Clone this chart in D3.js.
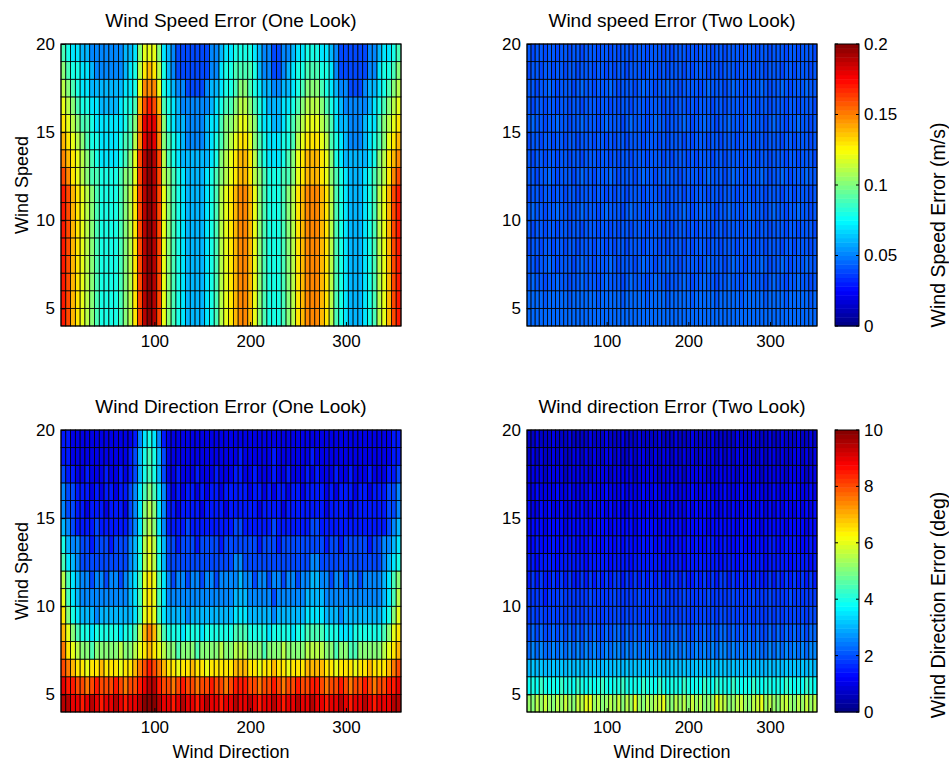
<!DOCTYPE html>
<html>
<head>
<meta charset="utf-8">
<title>Wind error pcolor</title>
<script src="https://cdnjs.cloudflare.com/ajax/libs/d3/7.8.5/d3.min.js"></script>
<style>
  body { margin: 0; background: #fff; }
  text { font-family: "Liberation Sans", Arial, sans-serif; fill: #000; }
</style>
</head>
<body>
<script>
// bins
var directions = d3.range(5, 360, 5);          // 71 direction bin centres (deg)
var speedBins = [4, 5, 6, 7, 8, 9, 10, 11, 12, 13, 14, 15, 16, 17, 18, 19];  // lower edge of each speed bin
var xTicks = [100, 200, 300];
var yTicks = [5, 10, 15, 20];
var speedCbTicks = [0, 0.05, 0.1, 0.15, 0.2];
var speedCbLabels = ["0", "0.05", "0.1", "0.15", "0.2"];
var dirCbTicks = [0, 2, 4, 6, 8, 10];

// cell levels, one string per speed bin (bottom row first), one base-36 char per direction bin
// value = level * step
var speedOneLookStep = 0.01;
var speedOneLook = [
  "hgedcba988 889abdgjkj gca9876666 789bcdeffe ca98889abd efffedb987 666789bceg h",
  "hgedcba988 889abdgjkj gca9876666 789bcdeffe ca98889abd efffedb987 666789bceg h",
  "hgedcba988 889abdgjkj gca9876666 789bcdeffe ca98889abd efffedb987 666789bceg h",
  "hgedcba988 889abdgjkj gca9876666 789bcdeffe ca98889abd efffedb987 666789bceg h",
  "hgedcba988 889abdgjkj gca9876666 789bcdeffe ca98889abd efffedb987 666789bceg h",
  "hgedcba988 889abdgjkj gca9876666 789bcdeffe ca98889abd efffedb987 666789bceg h",
  "hgedcba988 889abdgjkj gca9876666 789bcdeffe ca98889abd efffedb987 666789bceg h",
  "hgedcba988 889abdgjkj gca9876666 789bcdeffe ca98889abd efffedb987 666789bceg h",
  "gfdcba9988 889aacgjkj gba9876666 789abcdeed ba988899ac deeedca987 666789abdf g",
  "fedcba9877 7789acgjkj gb98766666 678abcdeed b9877789ac deeedca876 666678abde f",
  "edcba98877 77899bfiji fa98765555 6789abcddc a98777889b cdddcb9876 5556789acd e",
  "dcba998777 77789afiii fa87665555 6779aabccb a87766789a bcccba9766 5556779abc d",
  "cba9887766 667889eghg e987655555 567899abba 9876667789 abbba98765 55556789ab c",
  "ba98776666 666778cfff c876554444 5667889aa9 8766556678 9aaa987655 444566789a b",
  "a988776555 555678bded b865444444 4557889999 8655445678 8999887544 4444557889 a",
  "9877665555 555667accc a765444444 4556778888 7655445567 7888776544 4444556778 9"
];

var speedTwoLookStep = 0.002;
var speedTwoLook = [
  "mnmmnmmnmm nmmnmmmnmm nmnmmnmmmn mmmnmnmmmn mnmmmnmmnm mmnmmmnmmn mmmnmmnmmm n",
  "mnmmlmmnmm lmmnmmmlmn mmmlmnmmml mnmmlmmmnm lmmnmmlmmn mmlmnmmmlm nmmlmmnmml m",
  "lmllkllmll kllmlllklm lllklmlllk lmllklllml kllmllkllm llklmlllkl mllkllmllk l",
  "llkllmlkll lklmllklll mlklllklml lkllmllkll llklmlllkl mllklllmlk llmlklllml l",
  "kllkllkllk llklllkllk lkllklllkl llklklllkl klllkllkll lklllkllkl llkllklllk l",
  "lkllkllkll kllklllkll klkllklllk lllklklllk lklllkllkl llklllkllk lllkllklll k",
  "lmllkllmll kllmlllklm lllklmlllk lmllklllml kllmllkllm llklmlllkl mllkllmllk l",
  "kllkllkllk llklllkllk lkllklllkl llklklllkl klllkllkll lklllkllkl llkllklllk l",
  "llkllmlkll lklmllklll mlklllklml lkllmllkll llklmlllkl mllklllmlk llmlklllml l",
  "lkllkllkll kllklllkll klkllklllk lllklklllk lklllkllkl llklllkllk lllkllklll k",
  "kllkllkllk llklllkllk lkllklllkl llklklllkl klllkllkll lklllkllkl llkllklllk l",
  "lmllkllmll kllmlllklm lllklmlllk lmllklllml kllmllkllm llklmlllkl mllkllmllk l",
  "lkllkllkll kllklllkll klkllklllk lllklklllk lklllkllkl llklllkllk lllkllklll k",
  "llkllmlkll lklmllklll mlklllklml lkllmllkll llklmlllkl mllklllmlk llmlklllml l",
  "kllkllkllk llklllkllk lkllklllkl llklklllkl klllkllkll lklllkllkl llkllklllk l",
  "lkllkllkll kllklllkll klkllklllk lllklklllk lklllkllkl llklllkllk lllkllklll k"
];

var dirOneLookStep = 0.5;
var dirOneLook = [
  "jjiihijihi ijihiijkkk jiihijiihi jiihiijiij ihiijihiij iijiihiiji hiijihiiij j",
  "ihhggfghgg ghgfgghijj hggfghggfg ghggfghhhg gfgghgfggh gghhgfgghg fgghgfgghh i",
  "gfeddcdded ddcddefghg feddcddedd cdddddeeed dcddeddcdd deeeeddcdd dcddedddef g",
  "fdcbaa9aaa aabaabcded cbaa9aaa9a aaabaabbba aa9aaabaaa abbbbaa9aa 99aaaaabcd e",
  "eca9887888 887889befe b988878887 8888889998 8887888878 8999988877 78888889ac d",
  "da87666566 6666679cdc 9766665666 6666667776 6666566666 6777766656 666666678a c",
  "c976555555 5555679cdc 9755555555 5555556665 5555455555 5666655555 5555555679 b",
  "b976554554 5545679cdc 9754554554 5545555655 4554554554 5566554554 5545555679 a",
  "9765444444 4444568bcb 8644444444 4444445544 4444444444 4455444444 4444444567 8",
  "8655443444 3444568bcb 8644344434 4443444444 4344434444 4444434434 4444344556 7",
  "6543333433 3333457aba 7533334333 3333334433 3333433333 3344333333 3333333345 6",
  "5443323332 3332457aba 7533233332 3333233333 3233332333 3333323333 2333333344 5",
  "5443332323 32334579a9 7532323323 2332333332 3323233233 2333323233 3233233344 5",
  "4332232223 2232346898 6422322232 2232223322 3222322322 2323222322 3222322233 4",
  "3322222222 2222346898 6422222222 2222222322 2222322222 2232222222 2222222223 3",
  "3322222222 2222235787 5322222222 2222222222 2222222222 2222222222 2222222223 3"
];

var dirTwoLookStep = 0.25;
var dirTwoLook = [
  "lkmlnlkmln lknmoolmkl mlnkmlolkm lmnolkmlmk nlmkllonmk lmnlkmnolm lkmnlkmlnl m",
  "fgfhgfgfhg gfhgfgfghg fgghgfgfhg gfhgfggfhg fgfhgfhggf hgfgfhgfgg fgfhgfgfhg f",
  "cdcdccdcdc dcdcdcdccd cddcdcdcdc dcdccddcdc cdcdcdcddc dcdcdcdccd cdcdcdcdcd c",
  "9a9a99a9a9 a9a9a9a99a 9aa9a9a9a9 a9a99aa9a9 9a9a9a9aa9 a9a9a9a99a 9a9a9a9a9a a",
  "8989889898 9898989889 8998989898 9898899898 8989898998 9898989889 8989898989 9",
  "7878778787 8787878778 7887878787 8787788787 7878787887 8787878778 7878787878 8",
  "7777677787 7777787777 7877777877 7778777787 7777877777 8777787778 7777877777 7",
  "6767667676 7667676767 6776767676 7676677676 6767676776 7676767667 6767676767 6",
  "6656666566 6666566666 5666656666 6665666656 6666666566 6566666656 6666566665 6",
  "5565556556 5655565556 5565655565 6556556556 5655665565 5565556556 6556565556 5",
  "5555455554 5555545555 4555554555 5545555545 5555455555 5455555455 5554555545 5",
  "5445454454 4545445454 5454454545 4454545445 4545454454 5445454545 4545445454 5",
  "4454444544 5444454445 4445444454 4544454444 5444544454 4454445444 5444454445 4",
  "4444344443 4444434444 3444443444 4434444434 4444344444 4344444344 4443444434 4",
  "3434334343 3443434334 4343343443 3434434343 4334343434 3443433434 4343344343 4",
  "3343334333 4333343334 3334333433 3343334333 4333343333 3433343334 3343334334 3"
];

var W = 949, H = 764;
var plotH = 282;

var panels = [
  { title: "Wind Speed Error (One Look)", rows: speedOneLook, step: speedOneLookStep, max: 0.2, x0: 61, w: 340, y0: 44, ylab: true, xlab: false },
  { title: "Wind speed Error (Two Look)", rows: speedTwoLook, step: speedTwoLookStep, max: 0.2, x0: 527, w: 290, y0: 44, ylab: false, xlab: false },
  { title: "Wind Direction Error (One Look)", rows: dirOneLook, step: dirOneLookStep, max: 10, x0: 61, w: 340, y0: 430, ylab: true, xlab: true },
  { title: "Wind direction Error (Two Look)", rows: dirTwoLook, step: dirTwoLookStep, max: 10, x0: 527, w: 290, y0: 430, ylab: false, xlab: true }
];

// matlab style jet(64)
function jet(t) {
  var i = Math.max(0, Math.min(63, Math.floor(t * 64)));
  var v = (i + 0.5) / 64;
  function c(a) { return Math.max(0, Math.min(1, a)); }
  return d3.rgb(255 * c(1.5 - Math.abs(4 * v - 3)),
                255 * c(1.5 - Math.abs(4 * v - 2)),
                255 * c(1.5 - Math.abs(4 * v - 1))).toString();
}

var svg = d3.select("body").append("svg")
  .attr("width", W).attr("height", H);

svg.append("rect").attr("width", W).attr("height", H).attr("fill", "#fff");

panels.forEach(function(p) {
  var x = d3.scaleLinear().domain([2.5, 357.5]).range([p.x0, p.x0 + p.w]);
  var y = d3.scaleLinear().domain([4, 20]).range([p.y0 + plotH, p.y0]);

  var cells = [];
  speedBins.forEach(function(s, r) {
    var row = p.rows[r].replace(/\s/g, "");
    directions.forEach(function(d, c) {
      var ch = row.charAt(c) || row.charAt(row.length - 1);
      cells.push({ dir: d, speed: s, value: parseInt(ch, 36) * p.step });
    });
  });

  var g = svg.append("g");

  g.selectAll("rect.cell")
    .data(cells)
    .enter()
    .append("rect")
    .attr("class", "cell")
    .attr("x", function(d) { return x(d.dir - 2.5); })
    .attr("y", function(d) { return y(d.speed + 1); })
    .attr("width", function(d) { return x(d.dir + 2.5) - x(d.dir - 2.5); })
    .attr("height", function(d) { return y(d.speed) - y(d.speed + 1); })
    .attr("fill", function(d) { return jet(d.value / p.max); })
    .attr("stroke", "#000")
    .attr("stroke-width", 0.8);

  // axes, ticks pointing inwards like matlab
  var xAxis = g.append("g")
    .attr("transform", "translate(0," + (p.y0 + plotH) + ")")
    .call(d3.axisBottom(x).tickValues(xTicks).tickSizeInner(-4).tickSizeOuter(0).tickPadding(9));
  var yAxis = g.append("g")
    .attr("transform", "translate(" + p.x0 + ",0)")
    .call(d3.axisLeft(y).tickValues(yTicks).tickSizeInner(-4).tickSizeOuter(0).tickPadding(6));
  [xAxis, yAxis].forEach(function(a) {
    a.select(".domain").remove();
    a.selectAll("text").attr("font-size", 17).attr("font-family", "Liberation Sans, Arial, sans-serif");
  });

  g.append("rect")
    .attr("x", p.x0).attr("y", p.y0)
    .attr("width", p.w).attr("height", plotH)
    .attr("fill", "none").attr("stroke", "#000").attr("stroke-width", 1);

  g.append("text")
    .attr("x", p.x0 + p.w / 2).attr("y", p.y0 - 17)
    .attr("text-anchor", "middle")
    .attr("font-size", 19)
    .text(p.title);

  if (p.ylab) {
    g.append("text")
      .attr("transform", "translate(28," + (p.y0 + plotH / 2) + ") rotate(-90)")
      .attr("text-anchor", "middle")
      .attr("font-size", 18)
      .text("Wind Speed");
  }
  if (p.xlab) {
    g.append("text")
      .attr("x", p.x0 + p.w / 2).attr("y", p.y0 + plotH + 46)
      .attr("text-anchor", "middle")
      .attr("font-size", 18)
      .text("Wind Direction");
  }
});

// colorbars
function colorbar(y0, max, ticks, labels, title, titleY) {
  var cx = 835, cw = 24;
  var cy = d3.scaleLinear().domain([0, max]).range([y0 + plotH, y0]);
  var g = svg.append("g");
  var bands = d3.range(64);
  g.selectAll("rect.band")
    .data(bands)
    .enter()
    .append("rect")
    .attr("x", cx)
    .attr("y", function(i) { return cy((i + 1) * max / 64); })
    .attr("width", cw)
    .attr("height", function(i) { return cy(i * max / 64) - cy((i + 1) * max / 64) + 0.5; })
    .attr("fill", function(i) { return jet((i + 0.5) / 64); });
  g.append("rect")
    .attr("x", cx).attr("y", y0).attr("width", cw).attr("height", plotH)
    .attr("fill", "none").attr("stroke", "#000").attr("stroke-width", 1);
  g.selectAll("line.lt").data(ticks).enter().append("line")
    .attr("x1", cx).attr("x2", cx + 3)
    .attr("y1", function(d) { return cy(d); }).attr("y2", function(d) { return cy(d); })
    .attr("stroke", "#000");
  g.selectAll("line.rt").data(ticks).enter().append("line")
    .attr("x1", cx + cw - 3).attr("x2", cx + cw)
    .attr("y1", function(d) { return cy(d); }).attr("y2", function(d) { return cy(d); })
    .attr("stroke", "#000");
  g.selectAll("text.tl").data(ticks).enter().append("text")
    .attr("x", cx + cw + 5)
    .attr("y", function(d) { return cy(d); })
    .attr("dy", "0.35em")
    .attr("font-size", 17)
    .text(function(d, i) { return labels[i]; });
  g.append("text")
    .attr("transform", "translate(938," + titleY + ") rotate(-90)")
    .attr("text-anchor", "middle")
    .attr("dy", "0.35em")
    .attr("font-size", 19.5)
    .text(title);
}

colorbar(44, 0.2, speedCbTicks, speedCbLabels, "Wind Speed Error (m/s)", 225);
colorbar(430, 10, dirCbTicks, dirCbTicks.map(String), "Wind Direction Error (deg)", 605);
</script>
</body>
</html>
